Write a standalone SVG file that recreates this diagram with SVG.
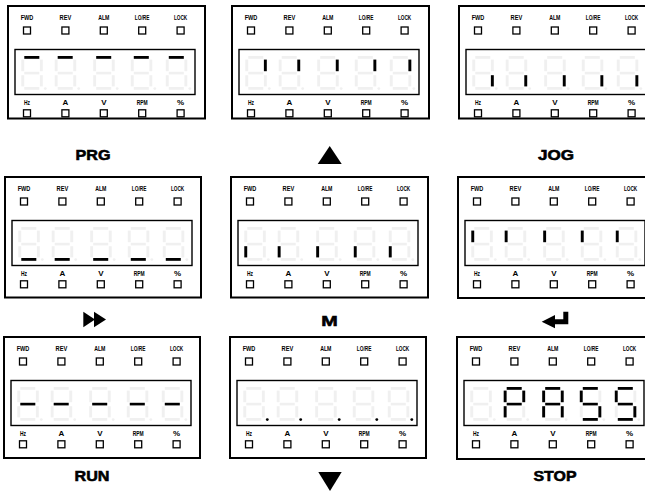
<svg xmlns="http://www.w3.org/2000/svg" xmlns:xlink="http://www.w3.org/1999/xlink" width="645" height="495" viewBox="0 0 645 495">
<style>
.box{fill:#fff;stroke:#000;stroke-width:2}
.disp{fill:none;stroke:#000;stroke-width:1.4}
.sq{fill:#fff;stroke:#000;stroke-width:1.3}
.lb{font-family:"Liberation Sans",Arial,sans-serif;font-weight:bold;font-size:8px;text-anchor:middle;fill:#000}
.key{font-family:"Liberation Sans",Arial,sans-serif;font-weight:bold;font-size:15.5px;text-anchor:middle;fill:#000;stroke:#000;stroke-width:0.6}
.on{fill:#000}
.ghost{fill:#f0f0f0}
</style>
<defs>
<rect id="sa" x="3" y="0" width="15" height="2.8"/>
<rect id="sb" x="18.6" y="3.6" width="2.9" height="11.6"/>
<rect id="sc" x="18.6" y="19.2" width="2.9" height="11.2"/>
<rect id="sd" x="3" y="31" width="15" height="2.8"/>
<rect id="se" x="0" y="19.2" width="2.9" height="11.2"/>
<rect id="sf" x="0" y="3.6" width="2.9" height="11.6"/>
<rect id="sg" x="3" y="15.8" width="15" height="2.6"/>
<circle id="sp" cx="24" cy="32.6" r="1.4"/>
<g id="dg" class="ghost"><use href="#sa"/><use href="#sb"/><use href="#sc"/><use href="#sd"/><use href="#se"/><use href="#sf"/><use href="#sg"/><use href="#sp"/></g>
<g id="face">
<rect class="sq" x="15.5" y="21" width="7" height="7"/><rect class="sq" x="53.9" y="21" width="7" height="7"/><rect class="sq" x="92.3" y="21" width="7" height="7"/><rect class="sq" x="130.7" y="21" width="7" height="7"/><rect class="sq" x="169.1" y="21" width="7" height="7"/>
<rect class="disp" x="7" y="43.5" width="180" height="45"/>
<rect class="sq" x="15.5" y="103.8" width="7" height="7"/><rect class="sq" x="53.9" y="103.8" width="7" height="7"/><rect class="sq" x="92.3" y="103.8" width="7" height="7"/><rect class="sq" x="130.7" y="103.8" width="7" height="7"/><rect class="sq" x="169.1" y="103.8" width="7" height="7"/>
<use href="#dg" x="13.3" y="50"/><use href="#dg" x="46.7" y="50"/><use href="#dg" x="85.2" y="50"/><use href="#dg" x="122.8" y="50"/><use href="#dg" x="157.8" y="50"/>
</g>
</defs>

<g id="panel-prg-a" transform="translate(8,6)">
<rect class="box" x="0" y="0" width="197" height="112.5"/>
<text class="lb" x="19" y="14" textLength="12.7" lengthAdjust="spacingAndGlyphs">FWD</text><text class="lb" x="57.4" y="14" textLength="11.7" lengthAdjust="spacingAndGlyphs">REV</text><text class="lb" x="95.8" y="14" textLength="11.3" lengthAdjust="spacingAndGlyphs">ALM</text><text class="lb" x="134.2" y="14" textLength="14.7" lengthAdjust="spacingAndGlyphs">LO/RE</text><text class="lb" x="172.6" y="14" textLength="13.3" lengthAdjust="spacingAndGlyphs">LOCK</text>
<text class="lb" x="19" y="98.5" textLength="6" lengthAdjust="spacingAndGlyphs">Hz</text><text class="lb" x="57.4" y="98.5">A</text><text class="lb" x="95.8" y="98.5">V</text><text class="lb" x="134.2" y="98.5" textLength="11" lengthAdjust="spacingAndGlyphs">RPM</text><text class="lb" x="172.6" y="98.5">%</text>
<use href="#face"/>
<use class="on" href="#sa" x="13.3" y="50"/><use class="on" href="#sa" x="46.7" y="50"/><use class="on" href="#sa" x="85.2" y="50"/><use class="on" href="#sa" x="122.8" y="50"/><use class="on" href="#sa" x="157.8" y="50"/>
</g>

<g id="panel-b" transform="translate(232,6)">
<rect class="box" x="0" y="0" width="197" height="112.5"/>
<text class="lb" x="19" y="14" textLength="12.7" lengthAdjust="spacingAndGlyphs">FWD</text><text class="lb" x="57.4" y="14" textLength="11.7" lengthAdjust="spacingAndGlyphs">REV</text><text class="lb" x="95.8" y="14" textLength="11.3" lengthAdjust="spacingAndGlyphs">ALM</text><text class="lb" x="134.2" y="14" textLength="14.7" lengthAdjust="spacingAndGlyphs">LO/RE</text><text class="lb" x="172.6" y="14" textLength="13.3" lengthAdjust="spacingAndGlyphs">LOCK</text>
<text class="lb" x="19" y="98.5" textLength="6" lengthAdjust="spacingAndGlyphs">Hz</text><text class="lb" x="57.4" y="98.5">A</text><text class="lb" x="95.8" y="98.5">V</text><text class="lb" x="134.2" y="98.5" textLength="11" lengthAdjust="spacingAndGlyphs">RPM</text><text class="lb" x="172.6" y="98.5">%</text>
<use href="#face"/>
<use class="on" href="#sb" x="13.3" y="50"/><use class="on" href="#sb" x="46.7" y="50"/><use class="on" href="#sb" x="85.2" y="50"/><use class="on" href="#sb" x="122.8" y="50"/><use class="on" href="#sb" x="157.8" y="50"/>
</g>

<g id="panel-c" transform="translate(459,6)">
<rect class="box" x="0" y="0" width="197" height="112.5"/>
<text class="lb" x="19" y="14" textLength="12.7" lengthAdjust="spacingAndGlyphs">FWD</text><text class="lb" x="57.4" y="14" textLength="11.7" lengthAdjust="spacingAndGlyphs">REV</text><text class="lb" x="95.8" y="14" textLength="11.3" lengthAdjust="spacingAndGlyphs">ALM</text><text class="lb" x="134.2" y="14" textLength="14.7" lengthAdjust="spacingAndGlyphs">LO/RE</text><text class="lb" x="172.6" y="14" textLength="13.3" lengthAdjust="spacingAndGlyphs">LOCK</text>
<text class="lb" x="19" y="98.5" textLength="6" lengthAdjust="spacingAndGlyphs">Hz</text><text class="lb" x="57.4" y="98.5">A</text><text class="lb" x="95.8" y="98.5">V</text><text class="lb" x="134.2" y="98.5" textLength="11" lengthAdjust="spacingAndGlyphs">RPM</text><text class="lb" x="172.6" y="98.5">%</text>
<use href="#face"/>
<use class="on" href="#sc" x="13.3" y="50"/><use class="on" href="#sc" x="46.7" y="50"/><use class="on" href="#sc" x="85.2" y="50"/><use class="on" href="#sc" x="122.8" y="50"/><use class="on" href="#sc" x="157.8" y="50"/>
</g>

<g id="panel-d" transform="translate(5,177)">
<rect class="box" x="0" y="0" width="196" height="120.5"/>
<text class="lb" x="19" y="14" textLength="12.7" lengthAdjust="spacingAndGlyphs">FWD</text><text class="lb" x="57.4" y="14" textLength="11.7" lengthAdjust="spacingAndGlyphs">REV</text><text class="lb" x="95.8" y="14" textLength="11.3" lengthAdjust="spacingAndGlyphs">ALM</text><text class="lb" x="134.2" y="14" textLength="14.7" lengthAdjust="spacingAndGlyphs">LO/RE</text><text class="lb" x="172.6" y="14" textLength="13.3" lengthAdjust="spacingAndGlyphs">LOCK</text>
<text class="lb" x="19" y="98.5" textLength="6" lengthAdjust="spacingAndGlyphs">Hz</text><text class="lb" x="57.4" y="98.5">A</text><text class="lb" x="95.8" y="98.5">V</text><text class="lb" x="134.2" y="98.5" textLength="11" lengthAdjust="spacingAndGlyphs">RPM</text><text class="lb" x="172.6" y="98.5">%</text>
<use href="#face"/>
<use class="on" href="#sd" x="13.3" y="50"/><use class="on" href="#sd" x="46.7" y="50"/><use class="on" href="#sd" x="85.2" y="50"/><use class="on" href="#sd" x="122.8" y="50"/><use class="on" href="#sd" x="157.8" y="50"/>
</g>

<g id="panel-e" transform="translate(231,177)">
<rect class="box" x="0" y="0" width="197" height="120.5"/>
<text class="lb" x="19" y="14" textLength="12.7" lengthAdjust="spacingAndGlyphs">FWD</text><text class="lb" x="57.4" y="14" textLength="11.7" lengthAdjust="spacingAndGlyphs">REV</text><text class="lb" x="95.8" y="14" textLength="11.3" lengthAdjust="spacingAndGlyphs">ALM</text><text class="lb" x="134.2" y="14" textLength="14.7" lengthAdjust="spacingAndGlyphs">LO/RE</text><text class="lb" x="172.6" y="14" textLength="13.3" lengthAdjust="spacingAndGlyphs">LOCK</text>
<text class="lb" x="19" y="98.5" textLength="6" lengthAdjust="spacingAndGlyphs">Hz</text><text class="lb" x="57.4" y="98.5">A</text><text class="lb" x="95.8" y="98.5">V</text><text class="lb" x="134.2" y="98.5" textLength="11" lengthAdjust="spacingAndGlyphs">RPM</text><text class="lb" x="172.6" y="98.5">%</text>
<use href="#face"/>
<use class="on" href="#se" x="13.3" y="50"/><use class="on" href="#se" x="46.7" y="50"/><use class="on" href="#se" x="85.2" y="50"/><use class="on" href="#se" x="122.8" y="50"/><use class="on" href="#se" x="157.8" y="50"/>
</g>

<g id="panel-f" transform="translate(458,177)">
<rect class="box" x="0" y="0" width="197" height="121"/>
<text class="lb" x="19" y="14" textLength="12.7" lengthAdjust="spacingAndGlyphs">FWD</text><text class="lb" x="57.4" y="14" textLength="11.7" lengthAdjust="spacingAndGlyphs">REV</text><text class="lb" x="95.8" y="14" textLength="11.3" lengthAdjust="spacingAndGlyphs">ALM</text><text class="lb" x="134.2" y="14" textLength="14.7" lengthAdjust="spacingAndGlyphs">LO/RE</text><text class="lb" x="172.6" y="14" textLength="13.3" lengthAdjust="spacingAndGlyphs">LOCK</text>
<text class="lb" x="19" y="98.5" textLength="6" lengthAdjust="spacingAndGlyphs">Hz</text><text class="lb" x="57.4" y="98.5">A</text><text class="lb" x="95.8" y="98.5">V</text><text class="lb" x="134.2" y="98.5" textLength="11" lengthAdjust="spacingAndGlyphs">RPM</text><text class="lb" x="172.6" y="98.5">%</text>
<use href="#face"/>
<use class="on" href="#sf" x="13.3" y="50"/><use class="on" href="#sf" x="46.7" y="50"/><use class="on" href="#sf" x="85.2" y="50"/><use class="on" href="#sf" x="122.8" y="50"/><use class="on" href="#sf" x="157.8" y="50"/>
</g>

<g id="panel-g" transform="translate(4,337)">
<rect class="box" x="0" y="0" width="196" height="121"/>
<text class="lb" x="19" y="14" textLength="12.7" lengthAdjust="spacingAndGlyphs">FWD</text><text class="lb" x="57.4" y="14" textLength="11.7" lengthAdjust="spacingAndGlyphs">REV</text><text class="lb" x="95.8" y="14" textLength="11.3" lengthAdjust="spacingAndGlyphs">ALM</text><text class="lb" x="134.2" y="14" textLength="14.7" lengthAdjust="spacingAndGlyphs">LO/RE</text><text class="lb" x="172.6" y="14" textLength="13.3" lengthAdjust="spacingAndGlyphs">LOCK</text>
<text class="lb" x="19" y="98.5" textLength="6" lengthAdjust="spacingAndGlyphs">Hz</text><text class="lb" x="57.4" y="98.5">A</text><text class="lb" x="95.8" y="98.5">V</text><text class="lb" x="134.2" y="98.5" textLength="11" lengthAdjust="spacingAndGlyphs">RPM</text><text class="lb" x="172.6" y="98.5">%</text>
<use href="#face"/>
<use class="on" href="#sg" x="13.3" y="50"/><use class="on" href="#sg" x="46.7" y="50"/><use class="on" href="#sg" x="85.2" y="50"/><use class="on" href="#sg" x="122.8" y="50"/><use class="on" href="#sg" x="157.8" y="50"/>
</g>

<g id="panel-h" transform="translate(230,337)">
<rect class="box" x="0" y="0" width="196" height="121"/>
<text class="lb" x="19" y="14" textLength="12.7" lengthAdjust="spacingAndGlyphs">FWD</text><text class="lb" x="57.4" y="14" textLength="11.7" lengthAdjust="spacingAndGlyphs">REV</text><text class="lb" x="95.8" y="14" textLength="11.3" lengthAdjust="spacingAndGlyphs">ALM</text><text class="lb" x="134.2" y="14" textLength="14.7" lengthAdjust="spacingAndGlyphs">LO/RE</text><text class="lb" x="172.6" y="14" textLength="13.3" lengthAdjust="spacingAndGlyphs">LOCK</text>
<text class="lb" x="19" y="98.5" textLength="6" lengthAdjust="spacingAndGlyphs">Hz</text><text class="lb" x="57.4" y="98.5">A</text><text class="lb" x="95.8" y="98.5">V</text><text class="lb" x="134.2" y="98.5" textLength="11" lengthAdjust="spacingAndGlyphs">RPM</text><text class="lb" x="172.6" y="98.5">%</text>
<use href="#face"/>
<use class="on" href="#sp" x="13.3" y="50"/><use class="on" href="#sp" x="46.7" y="50"/><use class="on" href="#sp" x="85.2" y="50"/><use class="on" href="#sp" x="122.8" y="50"/><use class="on" href="#sp" x="157.8" y="50"/>
</g>

<g id="panel-i" transform="translate(457,337)">
<rect class="box" x="0" y="0" width="197" height="122"/>
<text class="lb" x="19" y="14" textLength="12.7" lengthAdjust="spacingAndGlyphs">FWD</text><text class="lb" x="57.4" y="14" textLength="11.7" lengthAdjust="spacingAndGlyphs">REV</text><text class="lb" x="95.8" y="14" textLength="11.3" lengthAdjust="spacingAndGlyphs">ALM</text><text class="lb" x="134.2" y="14" textLength="14.7" lengthAdjust="spacingAndGlyphs">LO/RE</text><text class="lb" x="172.6" y="14" textLength="13.3" lengthAdjust="spacingAndGlyphs">LOCK</text>
<text class="lb" x="19" y="98.5" textLength="6" lengthAdjust="spacingAndGlyphs">Hz</text><text class="lb" x="57.4" y="98.5">A</text><text class="lb" x="95.8" y="98.5">V</text><text class="lb" x="134.2" y="98.5" textLength="11" lengthAdjust="spacingAndGlyphs">RPM</text><text class="lb" x="172.6" y="98.5">%</text>
<use href="#face"/>
<g transform="translate(46.7,50)"><use class="on" href="#sa"/><use class="on" href="#sb"/><use class="on" href="#se"/><use class="on" href="#sf"/><use class="on" href="#sg"/></g>
<g transform="translate(85.2,50)"><use class="on" href="#sa"/><use class="on" href="#sb"/><use class="on" href="#sc"/><use class="on" href="#se"/><use class="on" href="#sf"/><use class="on" href="#sg"/></g>
<g transform="translate(122.8,50)"><use class="on" href="#sa"/><use class="on" href="#sf"/><use class="on" href="#sg"/><use class="on" href="#sc"/><use class="on" href="#sd"/></g>
<g transform="translate(157.8,50)"><use class="on" href="#sa"/><use class="on" href="#sf"/><use class="on" href="#sg"/><use class="on" href="#sc"/><use class="on" href="#sd"/></g>
</g>

<g id="keys">
<g id="key-prg"><text class="key" x="93" y="159.5" textLength="35" lengthAdjust="spacingAndGlyphs">PRG</text></g>
<g id="key-up"><polygon points="329.7,146 341.7,164 317.7,164" fill="#000"/></g>
<g id="key-jog"><text class="key" x="556" y="159.5" textLength="36" lengthAdjust="spacingAndGlyphs">JOG</text></g>
<g id="key-shift"><polygon points="83.3,311.7 95,319.5 83.3,327.3" fill="#000"/><polygon points="94,311.7 106,319.5 94,327.3" fill="#000"/></g>
<g id="key-m"><text class="key" x="329.5" y="325.5" font-size="20" textLength="16.5" lengthAdjust="spacingAndGlyphs">M</text></g>
<g id="key-enter"><polygon points="541.7,321.7 555,315 555,319.3 563.3,319.3 563.3,311.7 568.3,311.7 568.3,324.3 555,324.3 555,328.3" fill="#000"/></g>
<g id="key-run"><text class="key" x="92" y="481" textLength="35" lengthAdjust="spacingAndGlyphs">RUN</text></g>
<g id="key-down"><polygon points="318.3,472 341.7,472 330,491" fill="#000"/></g>
<g id="key-stop"><text class="key" x="555" y="481" textLength="43" lengthAdjust="spacingAndGlyphs">STOP</text></g>
</g>
</svg>
